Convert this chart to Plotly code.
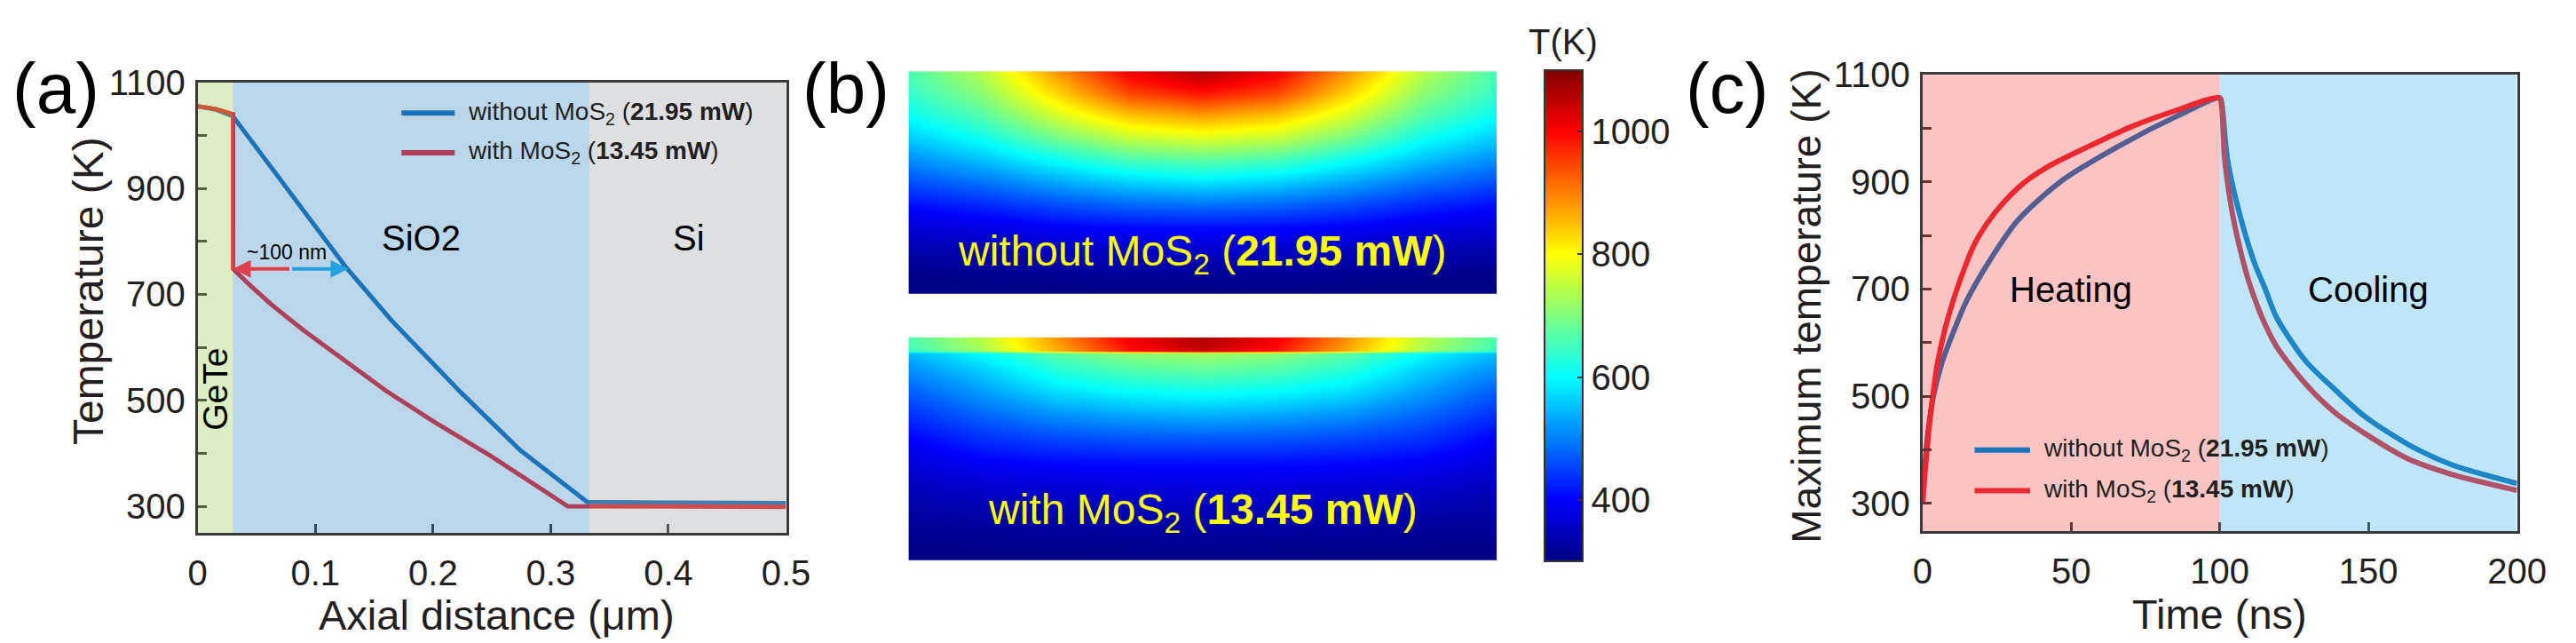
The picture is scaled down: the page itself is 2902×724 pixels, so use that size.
import plotly.graph_objects as go

W, H = 2902, 724
FONT = "Liberation Sans, Arial, sans-serif"
TEXT = "#231f20"
AXIS = "#3a3a3a"
BLUE = "#1b75bc"
RED = "#ec2a32"

# (a) axial temperature profiles
dist_without = [0, 0.015, 0.03, 0.065, 0.1, 0.126, 0.165, 0.224, 0.274, 0.331, 0.4, 0.5]
temp_without = [1055, 1049, 1036, 932, 829, 751, 650, 514, 406, 308, 307, 306]
dist_with = [0, 0.015, 0.03, 0.03, 0.045, 0.063, 0.09, 0.125, 0.16, 0.199, 0.249, 0.3145, 0.4, 0.5]
temp_with = [1055, 1050, 1040, 748, 716, 680, 632, 575, 518, 462, 395, 300, 299, 299]
layer_edges = [0, 0.03, 0.333, 0.5]
layer_names = ["GeTe", "SiO2", "Si"]
gap_x = [0.03, 0.128]
gap_temp = 748

# (b) temperature maps (lateral position x depth, normalised)
lateral = [0, 0.125, 0.25, 0.375, 0.5, 0.625, 0.75, 0.875, 1]
depth_without = [0, 0.1, 0.2, 0.3, 0.4, 0.5, 0.6, 0.7, 0.8, 0.9, 1.0]
map_without = [
    [660, 745, 880, 1010, 1065, 1010, 880, 745, 660],
    [640, 710, 830, 945, 985, 945, 830, 710, 640],
    [605, 665, 765, 845, 875, 845, 765, 665, 605],
    [560, 610, 690, 755, 775, 755, 690, 610, 560],
    [510, 550, 605, 655, 672, 655, 605, 550, 510],
    [460, 490, 530, 565, 580, 565, 530, 490, 460],
    [410, 430, 460, 482, 490, 482, 460, 430, 410],
    [370, 380, 398, 408, 412, 408, 398, 380, 370],
    [335, 342, 352, 358, 360, 358, 352, 342, 335],
    [310, 313, 318, 320, 322, 320, 318, 313, 310],
    [300, 300, 300, 300, 300, 300, 300, 300, 300],
]
depth_with = [0, 0.03, 0.058, 0.072, 0.15, 0.25, 0.35, 0.45, 0.55, 0.65, 0.8, 1.0]
map_with = [
    [660, 745, 880, 1010, 1065, 1010, 880, 745, 660],
    [655, 740, 872, 1000, 1055, 1000, 872, 740, 655],
    [645, 730, 860, 985, 1040, 985, 860, 730, 645],
    [545, 600, 670, 710, 725, 710, 670, 600, 545],
    [510, 560, 625, 660, 672, 660, 625, 560, 510],
    [470, 520, 570, 595, 605, 595, 570, 520, 470],
    [435, 478, 512, 530, 538, 530, 512, 478, 435],
    [400, 438, 458, 468, 472, 468, 458, 438, 400],
    [375, 400, 410, 414, 416, 414, 410, 400, 375],
    [352, 368, 374, 378, 380, 378, 374, 368, 352],
    [325, 332, 336, 338, 340, 338, 336, 332, 325],
    [300, 300, 300, 300, 300, 300, 300, 300, 300],
]
cbar_ticks = [400, 600, 800, 1000]

# (c) maximum temperature vs time
time_without = [0, 1.5, 3.5, 6.4, 10.4, 15, 22, 32, 47, 66, 86, 100,
                100.7, 102.5, 105.5, 111.4, 115.3, 119.2, 129, 138.8, 148.6, 163.3, 178, 200]
tmax_without = [300, 415, 495, 560, 620, 680, 748, 828, 903, 967, 1024, 1057,
                1045, 946, 866, 753, 700, 646, 565, 512, 463, 410, 372, 337]
time_with = [0, 1.5, 3, 5, 7.5, 10.4, 13.3, 17.3, 22, 27, 34, 42, 56.5, 71, 85, 100,
             100.7, 101.6, 103.5, 105.5, 109.4, 114.3, 119.2, 129, 138.8, 148.6, 163.3, 178, 200]
tmax_with = [300, 400, 480, 560, 624, 680, 727, 782, 825, 860, 898, 928, 968, 1005, 1033, 1057,
             1040, 946, 866, 807, 721, 646, 592, 522, 469, 431, 383, 354, 324]
phase_edges = [0, 100, 200]
phase_names = ["Heating", "Cooling"]

temp_ticks = list(range(300, 1101, 100))
temp_labels = [str(v) if v % 200 == 100 else "" for v in temp_ticks]

series_labels = ["without MoS<sub>2</sub> (<b>21.95 mW</b>)", "with MoS<sub>2</sub> (<b>13.45 mW</b>)"]
series_colors = [BLUE, RED]


def px(x):
    return x / W


def py(y):
    return 1 - y / H


jet = [[0, "rgb(0,0,128)"], [0.125, "rgb(0,0,255)"], [0.375, "rgb(0,255,255)"],
       [0.625, "rgb(255,255,0)"], [0.875, "rgb(255,0,0)"], [1, "rgb(128,0,0)"]]

fig = go.Figure()

# panel (a)
fig.add_trace(go.Scatter(x=dist_without, y=temp_without, mode="lines", line=dict(color=BLUE, width=5),
                         xaxis="x", yaxis="y"))
fig.add_trace(go.Scatter(x=dist_with, y=temp_with, mode="lines", line=dict(color=RED, width=5),
                         xaxis="x", yaxis="y"))

# panel (b)
fig.add_trace(go.Heatmap(x=lateral, y=depth_without, z=map_without, zsmooth="best",
                         coloraxis="coloraxis", xaxis="x2", yaxis="y2", hoverinfo="skip"))
fig.add_trace(go.Heatmap(x=lateral, y=depth_with, z=map_with, zsmooth="best",
                         coloraxis="coloraxis", xaxis="x3", yaxis="y3", hoverinfo="skip"))

# panel (c)
fig.add_trace(go.Scatter(x=time_without, y=tmax_without, mode="lines",
                         line=dict(color=BLUE, width=6, shape="spline", smoothing=0.8),
                         xaxis="x4", yaxis="y4"))
fig.add_trace(go.Scatter(x=time_with, y=tmax_with, mode="lines",
                         line=dict(color=RED, width=6, shape="spline", smoothing=0.8),
                         xaxis="x4", yaxis="y4"))

axis_style = dict(
    showline=True, linewidth=3, linecolor=AXIS, mirror=True,
    ticks="inside", ticklen=10, tickwidth=3, tickcolor=AXIS,
    showgrid=False, zeroline=False,
    tickfont=dict(size=40, color=TEXT, family=FONT),
)
hidden = dict(visible=False, showgrid=False, zeroline=False)

fig.update_layout(
    width=W, height=H, autosize=False, showlegend=False,
    margin=dict(l=0, r=0, t=0, b=0),
    paper_bgcolor="white", plot_bgcolor="white",
    font=dict(family=FONT, color=TEXT),
    xaxis=dict(domain=[px(215), px(888)], anchor="y", range=[0, 0.5],
               tickvals=[0, 0.1, 0.2, 0.3, 0.4, 0.5], ticktext=["0", "0.1", "0.2", "0.3", "0.4", "0.5"],
               ticklabelstandoff=8, **axis_style),
    yaxis=dict(domain=[py(596), py(73)], anchor="x", range=[250, 1100],
               tickvals=temp_ticks, ticktext=temp_labels, ticklabelstandoff=3, **axis_style),
    xaxis2=dict(domain=[px(1028), px(1701)], anchor="y2", range=[0, 1], **hidden),
    yaxis2=dict(domain=[py(318.5), py(60)], anchor="x2", range=[1, 0], **hidden),
    xaxis3=dict(domain=[px(1028), px(1701)], anchor="y3", range=[0, 1], **hidden),
    yaxis3=dict(domain=[py(628), py(369)], anchor="x3", range=[1, 0], **hidden),
    xaxis4=dict(domain=[px(2188), px(2868)], anchor="y4", range=[0, 200],
                tickvals=[0, 50, 100, 150, 200], ticklabelstandoff=8, **axis_style),
    yaxis4=dict(domain=[py(594), py(64.3)], anchor="x4", range=[248, 1100],
                tickvals=temp_ticks, ticktext=temp_labels, ticklabelstandoff=3, **axis_style),
    coloraxis=dict(
        cmin=300, cmax=1100, colorscale=jet,
        colorbar=dict(
            x=px(1755.5), xanchor="left", xpad=0, y=py(344), yanchor="middle", ypad=0,
            len=570 / H, lenmode="fraction", thickness=42.5, thicknessmode="pixels",
            outlinewidth=2, outlinecolor="#333333",
            tickvals=cbar_ticks, ticks="inside", ticklen=7, tickwidth=2, tickcolor="#333333",
            tickfont=dict(size=40, color=TEXT, family=FONT),
        ),
    ),
)

ann = []


def add_key(x0, x1, y, color, label):
    # hand-drawn legend entry: a short line plus its label
    fig.add_shape(type="line", xref="paper", yref="paper", x0=px(x0), x1=px(x1), y0=py(y), y1=py(y),
                  line=dict(color=color, width=6), layer="above")
    ann.append(dict(text=label, x=px(x1 + 13), y=py(y), xref="paper", yref="paper", showarrow=False,
                    xanchor="left", yanchor="middle", font=dict(size=28, color=TEXT)))


# legend of (a) lies under the SiO2 tint, so it is drawn before the tints
for i, yk in enumerate([108.5, 154.7]):
    add_key(448, 509, yk, series_colors[i], series_labels[i])

# translucent region tints, drawn over the curves
layer_tints = ["rgba(141,198,63,0.3)", "rgba(30,115,183,0.3)", "rgba(147,149,152,0.3)"]
for i, name in enumerate(layer_names):
    fig.add_shape(type="rect", xref="x", yref="y domain", x0=layer_edges[i], x1=layer_edges[i + 1],
                  y0=0, y1=1, fillcolor=layer_tints[i], line_width=0, layer="above")
phase_tints = ["rgba(237,32,36,0.27)", "rgba(41,171,226,0.3)"]
for i, name in enumerate(phase_names):
    fig.add_shape(type="rect", xref="x4", yref="y4 domain", x0=phase_edges[i], x1=phase_edges[i + 1],
                  y0=0, y1=1, fillcolor=phase_tints[i], line_width=0, layer="above")

# legend of (c) sits on top of the tints
for i, yk in enumerate([500, 547]):
    add_key(2247.5, 2311, yk, series_colors[i], series_labels[i])

texts = []
# panel letters
for letter, cx in [("(a)", 53), ("(b)", 957), ("(c)", 1964)]:
    texts.append(dict(text=letter, x=px(cx), y=py(80), font=dict(size=80, color="black")))
# axis titles and panel (b) texts
texts += [
    dict(text="Temperature (K)", x=px(90), y=py(315), textangle=-90, font=dict(size=48, color=TEXT)),
    dict(text="Axial distance (μm)", x=px(557), y=py(692), font=dict(size=47, color=TEXT)),
    dict(text="Maximum temperature (K)", x=px(2055), y=py(333), textangle=-90, font=dict(size=46, color=TEXT)),
    dict(text="Time (ns)", x=px(2528), y=py(690), font=dict(size=47, color=TEXT)),
    dict(text="T(K)", x=px(1777), y=py(26), font=dict(size=40, color=TEXT)),
    dict(text=series_labels[0], x=px(1364.5), y=py(272), font=dict(size=48, color="#ffff00")),
    dict(text=series_labels[1], x=px(1364.5), y=py(572.5), font=dict(size=48, color="#ffff00")),
]
for a in texts:
    a.update(xref="paper", yref="paper", showarrow=False, xanchor="center", yanchor="middle")
ann += texts

# layer names in (a)
ann.append(dict(text="GeTe", x=(layer_edges[0] + layer_edges[1]) / 2, y=521, xref="x", yref="y",
                textangle=-90, showarrow=False, font=dict(size=39, color="black")))
ann.append(dict(text="SiO2", x=0.19, y=807, xref="x", yref="y", showarrow=False,
                font=dict(size=40, color="black")))
ann.append(dict(text="Si", x=0.417, y=806, xref="x", yref="y", showarrow=False,
                font=dict(size=40, color="black")))
# ~100 nm double arrow
mid = (gap_x[0] + gap_x[1]) / 2
ann.append(dict(text="", x=gap_x[0], y=gap_temp, ax=mid, ay=gap_temp, xref="x", yref="y", axref="x", ayref="y",
                showarrow=True, arrowhead=2, arrowsize=1, arrowwidth=4, arrowcolor="#e0404c"))
ann.append(dict(text="", x=gap_x[1], y=gap_temp, ax=mid, ay=gap_temp, xref="x", yref="y", axref="x", ayref="y",
                showarrow=True, arrowhead=2, arrowsize=1, arrowwidth=4, arrowcolor="#25a3de"))
ann.append(dict(text="~100 nm", x=0.076, y=780, xref="x", yref="y", showarrow=False,
                font=dict(size=23, color="black")))
# phase names in (c)
for i, name in enumerate(phase_names):
    ann.append(dict(text=name, x=(phase_edges[i] + phase_edges[i + 1]) / 2, y=699, xref="x4", yref="y4",
                    showarrow=False, font=dict(size=40, color="black")))

fig.update_layout(annotations=ann)

fig.write_html("out.html", config={"displayModeBar": False},
               post_script="document.body.style.margin = '0';")
